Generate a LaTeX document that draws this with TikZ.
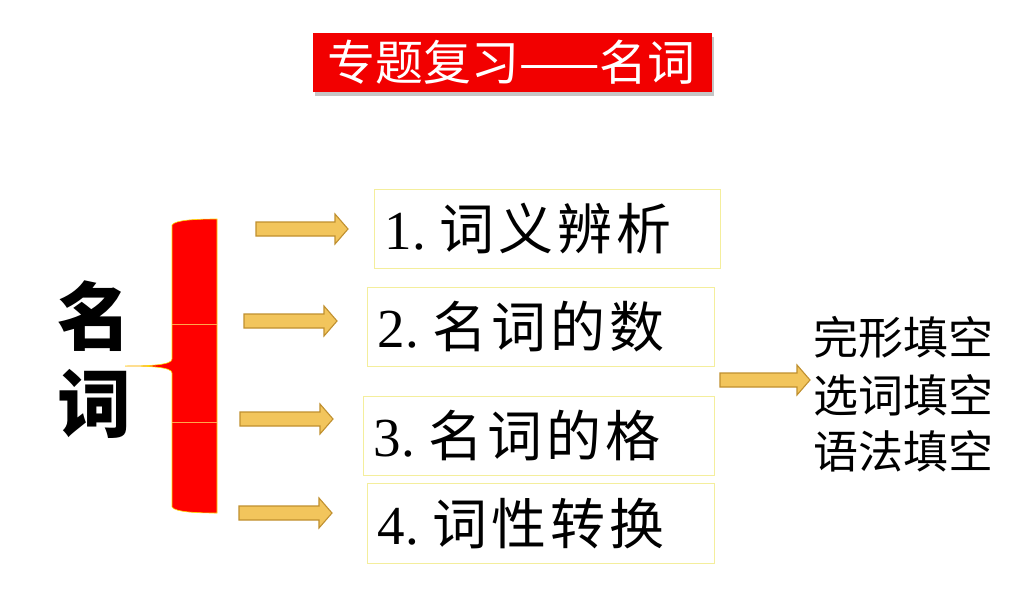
\documentclass[tikz,border=0pt]{standalone}
\usepackage{fontspec}
\setmainfont{Liberation Serif}
\newfontfamily\cjk{Noto Sans CJK SC}
\usetikzlibrary{shadows}
\definecolor{titlered}{HTML}{F20000}
\definecolor{arrowfill}{HTML}{F2C55C}
\definecolor{arrowdraw}{HTML}{C0902F}
\definecolor{boxline}{HTML}{F4EE9C}
\newcommand{\gp}{\hspace{4pt}}
\tikzset{
  topicbox/.style={draw=boxline, line width=1pt, fill=white, anchor=north west, inner xsep=10pt, inner ysep=0pt, align=left, font=\fontsize{55}{58}\selectfont},
  blockarrow/.style={fill=arrowfill, draw=arrowdraw, line width=1.1pt, line join=miter},
  righttext/.style={font=\cjk\fontsize{45}{48}\selectfont, inner sep=0pt}
}
% \barrow{x1}{xhead}{xtip}{y}
\newcommand{\barrow}[4]{%
  \draw[blockarrow] (#1,#4-7) -- (#2,#4-7) -- (#2,#4-15) -- (#3,#4) -- (#2,#4+15) -- (#2,#4+7) -- (#1,#4+7) -- cycle;}
\begin{document}
\begin{tikzpicture}[x=1pt,y=-1pt]
\useasboundingbox (0,0) rectangle (1024,589);
\fill[white] (0,0) rectangle (1024,589);

% title
\node[fill=titlered, minimum width=399pt, minimum height=59pt, anchor=north west, inner sep=0pt,
      drop shadow={shadow xshift=2pt, shadow yshift=-4pt, opacity=0.45}]
  (title) at (313,33) {};
\node[text=white, font=\cjk\fontsize{48}{50}\selectfont, inner sep=0pt] (titletext) at ([xshift=-1pt]title.center) {专题复习——名词};

% big label
\node[font=\cjk\bfseries\fontsize{74}{80}\selectfont, inner sep=0pt] (ming) at (94,316) {名};
\node[font=\cjk\bfseries\fontsize{74}{80}\selectfont, inner sep=0pt] (ci) at (94,404) {词};

% brace
\path[fill=red, draw=yellow!80!orange, line width=0.6pt]
  (217,219) -- (217,513) .. controls (196,513) and (175,512) .. (172,507)
  -- (172,373) .. controls (172,367) and (150,366) .. (125,366)
  .. controls (150,366) and (172,365) .. (172,359)
  -- (172,225) .. controls (175,220) and (196,219) .. (217,219) -- cycle;
\draw[orange!70, line width=0.5pt] (172,324) -- (217,324);
\draw[orange!70, line width=0.5pt] (172,422) -- (217,422);

% arrows to boxes
\barrow{256}{335}{348}{229}
\barrow{244}{324}{337}{321}
\barrow{240}{320}{333}{419}
\barrow{239}{319}{332}{513}

% boxes
\node[topicbox, minimum width=346pt, minimum height=79pt, text width=326pt] (b1) at (374,189) {1.\hspace{14pt}{\cjk 词\gp 义\gp 辨\gp 析}};
\node[topicbox, minimum width=347pt, minimum height=79pt, text width=327pt] (b2) at (367,287) {2.\hspace{14pt}{\cjk 名\gp 词\gp 的\gp 数}};
\node[topicbox, minimum width=351pt, minimum height=79pt, text width=331pt] (b3) at (363,396) {3.\hspace{14pt}{\cjk 名\gp 词\gp 的\gp 格}};
\node[topicbox, minimum width=347pt, minimum height=80pt, text width=327pt] (b4) at (367,483) {4.\hspace{14pt}{\cjk 词\gp 性\gp 转\gp 换}};

% right arrow and texts
\barrow{720}{797}{810}{380}
\node[righttext] (r1) at (903,337) {完形填空};
\node[righttext] (r2) at (903,395) {选词填空};
\node[righttext] (r3) at (903,451) {语法填空};
\end{tikzpicture}
\end{document}
